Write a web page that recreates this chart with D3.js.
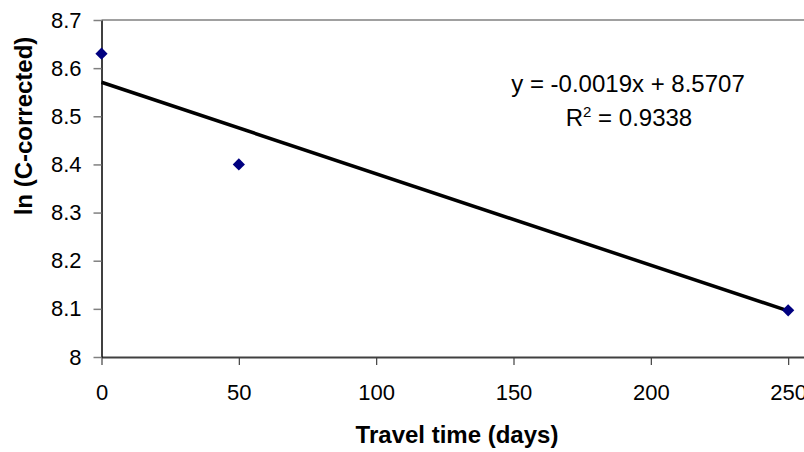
<!DOCTYPE html>
<html>
<head>
<meta charset="utf-8">
<script src="https://cdn.jsdelivr.net/npm/d3@7"></script>
<style>
  body { margin: 0; background: #fff; }
  svg { display: block; font-family: "Liberation Sans", Arial, sans-serif; }
</style>
</head>
<body>
<div id="chart"></div>
<script>
// data
const travelDays = [0, 50, 250];
const lnC = [8.63, 8.40, 8.097];
const xTicks = [0, 50, 100, 150, 200, 250];
const yTicks = [8, 8.1, 8.2, 8.3, 8.4, 8.5, 8.6, 8.7];
const trendSlope = -0.0019;
const trendIntercept = 8.5707;
const eqLabel = "y = -0.0019x + 8.5707";
const r2Value = "0.9338";

const width = 804, height = 452;

const svg = d3.select("#chart")
  .append("svg")
  .attr("width", width)
  .attr("height", height);

// x axis runs past the picture edge
const x = d3.scaleLinear().domain([0, 300]).range([101.5, 925.5]);
const y = d3.scaleLinear().domain([8, 8.7]).range([357, 20]);

// top gridline
svg.append("line")
  .attr("x1", x(0)).attr("x2", width)
  .attr("y1", y(8.7)).attr("y2", y(8.7))
  .attr("stroke", "#808080")
  .attr("stroke-width", 1.5);

// x axis
const gx = svg.append("g")
  .attr("transform", `translate(0,${y(8)})`)
  .call(d3.axisBottom(x).tickValues(xTicks).tickSize(8).tickSizeOuter(0).tickPadding(19));
gx.select(".domain").attr("stroke", "#404040").attr("stroke-width", 2);
gx.selectAll(".tick line").attr("stroke", "#404040").attr("stroke-width", 1.2);
gx.selectAll(".tick text").attr("font-size", 22).attr("fill", "#000")
  .attr("font-family", "Liberation Sans, Arial, sans-serif");

// y axis
const gy = svg.append("g")
  .attr("transform", `translate(${x(0)},0)`)
  .call(d3.axisLeft(y).tickValues(yTicks).tickSize(8).tickSizeOuter(0).tickPadding(12)
    .tickFormat(d => String(+d.toFixed(1))));
gy.select(".domain").attr("stroke", "#000").attr("stroke-width", 1.5);
gy.selectAll(".tick line").attr("stroke", "#808080").attr("stroke-width", 1.5);
gy.selectAll(".tick text").attr("font-size", 22).attr("fill", "#000")
  .attr("font-family", "Liberation Sans, Arial, sans-serif");

// linear trend line over the data range
const xExt = d3.extent(travelDays);
svg.append("line")
  .attr("x1", x(xExt[0])).attr("y1", y(trendIntercept + trendSlope * xExt[0]))
  .attr("x2", x(xExt[1])).attr("y2", y(trendIntercept + trendSlope * xExt[1]))
  .attr("stroke", "#000")
  .attr("stroke-width", 3.5);

// points
svg.selectAll(".pt")
  .data(travelDays.map((d, i) => [d, lnC[i]]))
  .enter()
  .append("path")
  .attr("class", "pt")
  .attr("transform", d => `translate(${x(d[0])},${y(d[1])})`)
  .attr("d", d3.symbol(d3.symbolDiamond2, 95)())
  .attr("fill", "#000080");

// equation labels
svg.append("text")
  .attr("x", 628).attr("y", 91.5)
  .attr("text-anchor", "middle")
  .attr("font-size", 24)
  .text(eqLabel);

const r2 = svg.append("text")
  .attr("x", 629).attr("y", 125.5)
  .attr("text-anchor", "middle")
  .attr("font-size", 24);
r2.append("tspan").text("R");
r2.append("tspan").attr("dy", -9).attr("font-size", 15).text("2");
r2.append("tspan").attr("dy", 9).text(" = " + r2Value);

// axis titles
svg.append("text")
  .attr("x", 457).attr("y", 443)
  .attr("text-anchor", "middle")
  .attr("font-size", 24)
  .attr("font-weight", "bold")
  .text("Travel time (days)");

svg.append("text")
  .attr("transform", "translate(32,126) rotate(-90)")
  .attr("text-anchor", "middle")
  .attr("font-size", 24)
  .attr("font-weight", "bold")
  .text("ln (C-corrected)");
</script>
</body>
</html>
